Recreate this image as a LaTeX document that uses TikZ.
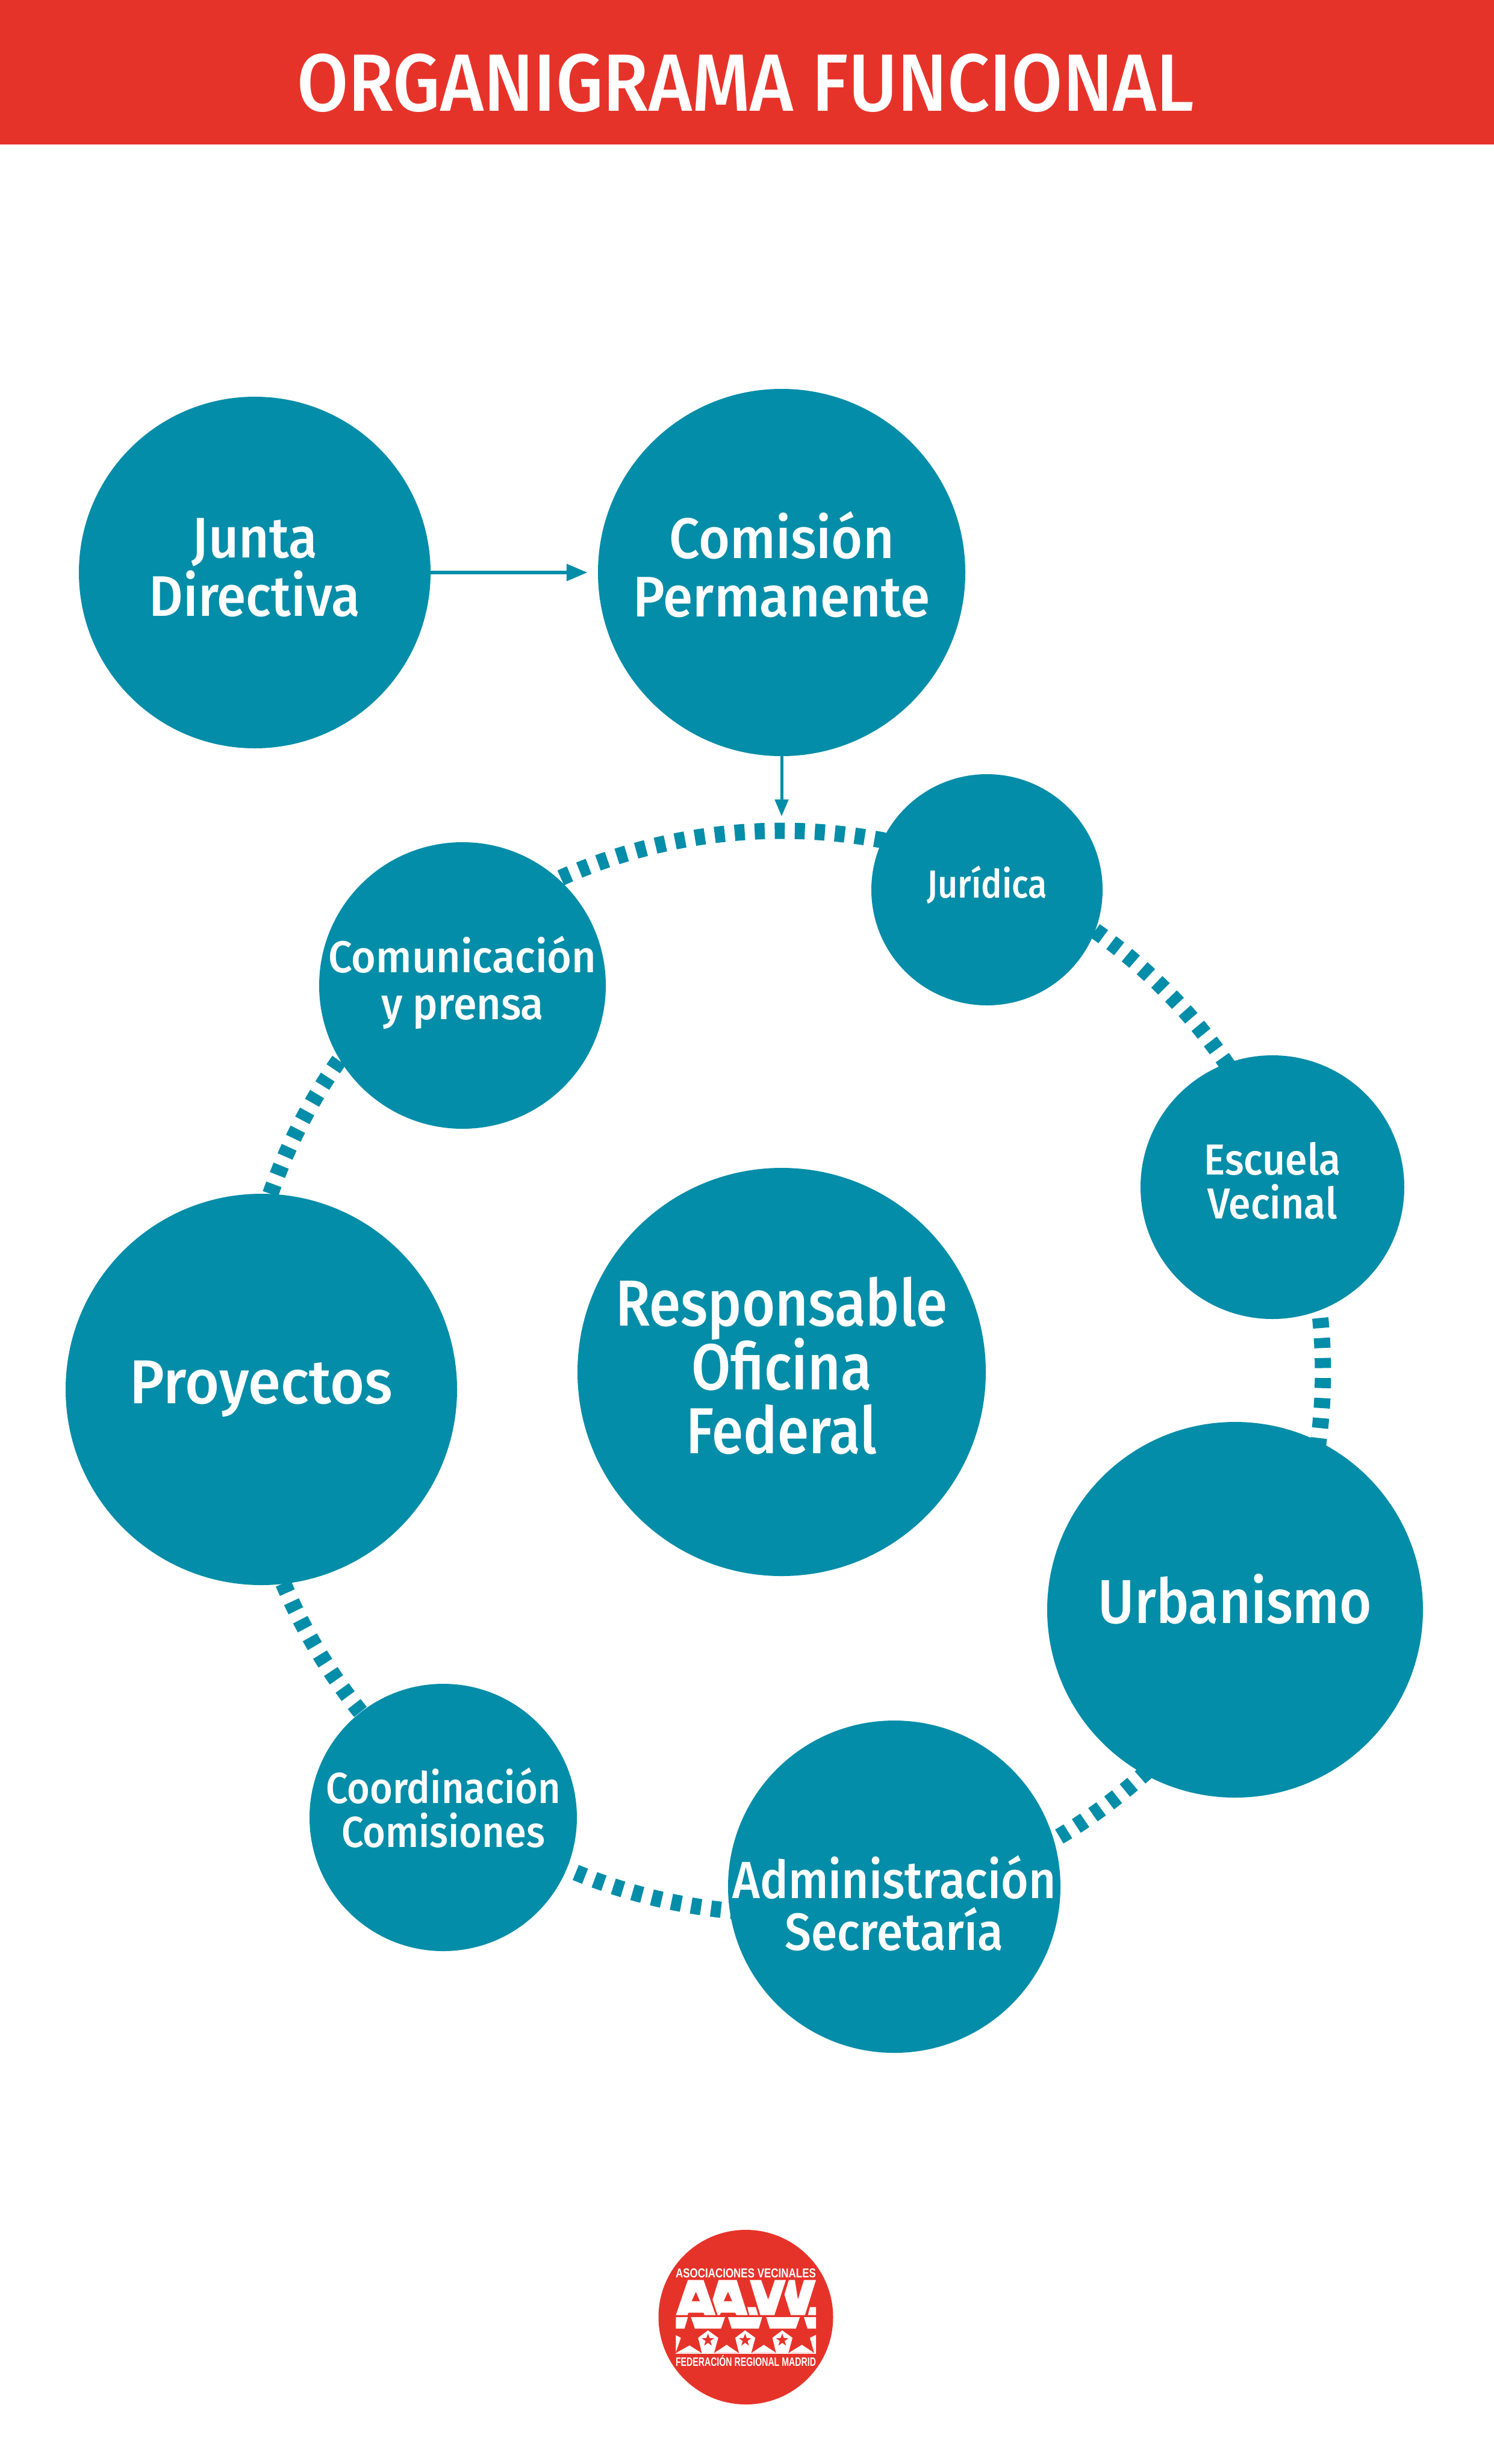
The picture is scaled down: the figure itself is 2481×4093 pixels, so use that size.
\documentclass[tikz,border=0pt]{standalone}
\usepackage{fontspec}
\usepackage{graphicx}
\setmainfont{Fira Sans Medium}
\newfontfamily\logofont{Liberation Sans}
\usetikzlibrary{calc,arrows.meta}
\definecolor{orgteal}{HTML}{038DA8}
\definecolor{orgred}{HTML}{E6332A}
\pgfdeclarelayer{under}
\pgfsetlayers{under,main}
\newsavebox\lblbox
\newcommand\lbl[3]{\sbox\lblbox{\vbox{\hsize=2400pt\parindent=0pt\centering\lineskiplimit=-1000pt #3\par}}\makebox[0pt]{\scalebox{#1}[1]{\raisebox{#2pt}[\ht\lblbox][\dp\lblbox]{\usebox\lblbox}}}}
\newcommand\fsz[2]{\fontsize{#1pt}{#2pt}\selectfont}
\newcommand\ringarc[3]{\draw[ringdash,dash phase=#3pt] let \p1=($(#1)-(resp)$), \p2=($(#2)-(resp)$), \n1={atan2(\y1,\x1)}, \n2={atan2(\y2,\x2)}, \n3={mod(\n1-\n2+720,360)} in ($(resp)+(\n1:899pt)$) arc[start angle=\n1, delta angle=-\n3, radius=899pt];}
\tikzset{
  disc/.style={circle,fill=orgteal,draw=none,inner sep=0pt,minimum size=#1,text=white,align=center},
  ringdash/.style={draw=orgteal,line width=27pt,dash pattern=on 16.7pt off 16.6pt},
  flowbig/.style={draw=orgteal,line width=6.7pt,-{Triangle[length=35pt,width=27pt]}},
  flowsmall/.style={draw=orgteal,line width=5pt,-{Triangle[length=28pt,width=22pt]}},
  logotext/.style={text=white,inner sep=0pt,font=\logofont\bfseries\fontsize{21pt}{21pt}\selectfont}
}
\begin{document}
\begin{tikzpicture}[x=1pt,y=1pt]
\useasboundingbox (0,0) rectangle (2481,-4093);
\begin{pgfonlayer}{under}
\fill[white] (0,0) rectangle (2481,-4093);
\end{pgfonlayer}
\node[rectangle,fill=orgred,inner sep=0pt,minimum width=2481pt,minimum height=240pt,text=white] (header) at (1240.5,-120) {\fsz{135}{135}\hspace*{-5pt}\lbl{0.915}{-18}{ORGANIGRAMA FUNCIONAL}};
\node[disc=584pt] (junta) at (423,-951) {\fsz{95}{97}\lbl{0.92}{7.8}{Junta\\Directiva}};
\node[disc=610pt] (comision) at (1298,-951) {\fsz{95}{97}\lbl{0.94}{13}{Comisión\\Permanente}};
\node[disc=384pt] (juridica) at (1639,-1478) {\fsz{65}{70}\lbl{0.886}{7.8}{Jurídica}};
\node[disc=476pt] (comunicacion) at (768,-1637) {\fsz{74}{78}\lbl{0.945}{5.2}{Comunicación\\y prensa}};
\node[disc=438pt] (escuela) at (2113,-1972) {\fsz{72}{73}\lbl{0.92}{10.4}{Escuela\\Vecinal}};
\node[disc=650pt] (proyectos) at (434,-2308) {\fsz{103}{105}\lbl{0.95}{1}{Proyectos}};
\node[disc=678pt] (resp) at (1298,-2279) {\fsz{108}{106}\lbl{0.876}{10.7}{Responsable\\Oficina\\Federal}};
\node[disc=624pt] (urbanismo) at (2051,-2674) {\fsz{103}{105}\lbl{0.89}{18}{Urbanismo}};
\node[disc=552pt] (admin) at (1485,-3134) {\fsz{87}{86}\lbl{0.90}{-27}{Administración\\Secretaría}};
\node[disc=444pt] (coord) at (736,-3019) {\fsz{72}{73}\lbl{0.90}{15.6}{Coordinación\\Comisiones}};
\coordinate (ringtop) at (1298,-1356);
\draw[flowbig,shorten >=17pt] (junta) -- (comision);
\draw[flowsmall] (comision) -- (ringtop);
\begin{pgfonlayer}{under}
\ringarc{comunicacion}{juridica}{23.8}
\ringarc{juridica}{escuela}{6.4}
\ringarc{escuela}{urbanismo}{32.4}
\ringarc{urbanismo}{admin}{22.6}
\ringarc{admin}{coord}{5.2}
\ringarc{coord}{proyectos}{15.5}
\ringarc{proyectos}{comunicacion}{1.3}
\end{pgfonlayer}
% logo
\node[disc=290pt,fill=orgred] (logo) at (1238.5,-3849) {};
\node[logotext] (logotop) at (1238.5,-3776.5) {\resizebox{233pt}{15pt}{ASOCIACIONES VECINALES}};
\node[logotext] (logobot) at (1238.5,-3922) {\resizebox{233pt}{18pt}{FEDERACIÓN REGIONAL MADRID}};
\begin{scope}[shift={(1060,-3670)},x=0.33333pt,y=-0.33333pt]
\fill[white,even odd rule] (187,527)--(247,352)--(325,352)--(385,527)--(330,527)--(325,515)--(250,515)--(245,527)--cycle (265,458)--(287,410)--(307,458)--cycle;
\fill[white,even odd rule] (395,527)--(370,450)--(400,352)--(490,352)--(545,527)--(490,527)--(482,515)--(412,515)--(405,527)--cycle (425,458)--(447,410)--(468,458)--cycle;
\fill[white] (555,352)--(612,352)--(647,450)--(680,352)--(735,352)--(678,527)--(608,527)--cycle;
\fill[white] (543,487)--(585,487)--(597,527)--(553,527)--cycle;
\fill[white] (728,425)--(750,352)--(780,352)--(795,450)--(825,352)--(885,352)--(830,527)--(760,527)--cycle;
\fill[white] (855,487)--(885,487)--(885,527)--(845,527)--cycle;
\fill[white] (187,537)--(247,537)--(230,594)--(187,594)--cycle;
\fill[white] (262,537)--(432,537)--(412,594)--(282,594)--cycle;
\fill[white] (447,537)--(617,537)--(600,594)--(465,594)--cycle;
\fill[white] (637,537)--(805,537)--(785,594)--(655,594)--cycle;
\fill[white] (825,537)--(885,537)--(885,594)--(843,594)--cycle;
\fill[white] (187,627)--(212,640)--(187,712)--cycle;
\fill[white] (885,625)--(855,640)--(877,718)--(885,718)--cycle;
\fill[white] (187,716)--(255,678)--(315,716)--cycle;
\fill[white] (378,716)--(440,675)--(500,716)--cycle;
\fill[white] (563,716)--(625,675)--(688,716)--cycle;
\fill[white] (748,716)--(815,675)--(877,716)--cycle;
\fill[white] (187,716) rectangle (885,720);
\foreach \cx in {347,532,717}{
\begin{scope}[shift={(\cx,652)}]
\fill[white] (0,-49)--(51,-12)--(30,66)--(-30,66)--(-49,-12)--cycle;
\fill[orgred] (0,-33)--(8,-11)--(31,-10)--(12,4)--(19,27)--(0,13)--(-19,27)--(-12,4)--(-31,-10)--(-8,-11)--cycle;
\end{scope}}
\end{scope}
\end{tikzpicture}
\end{document}
